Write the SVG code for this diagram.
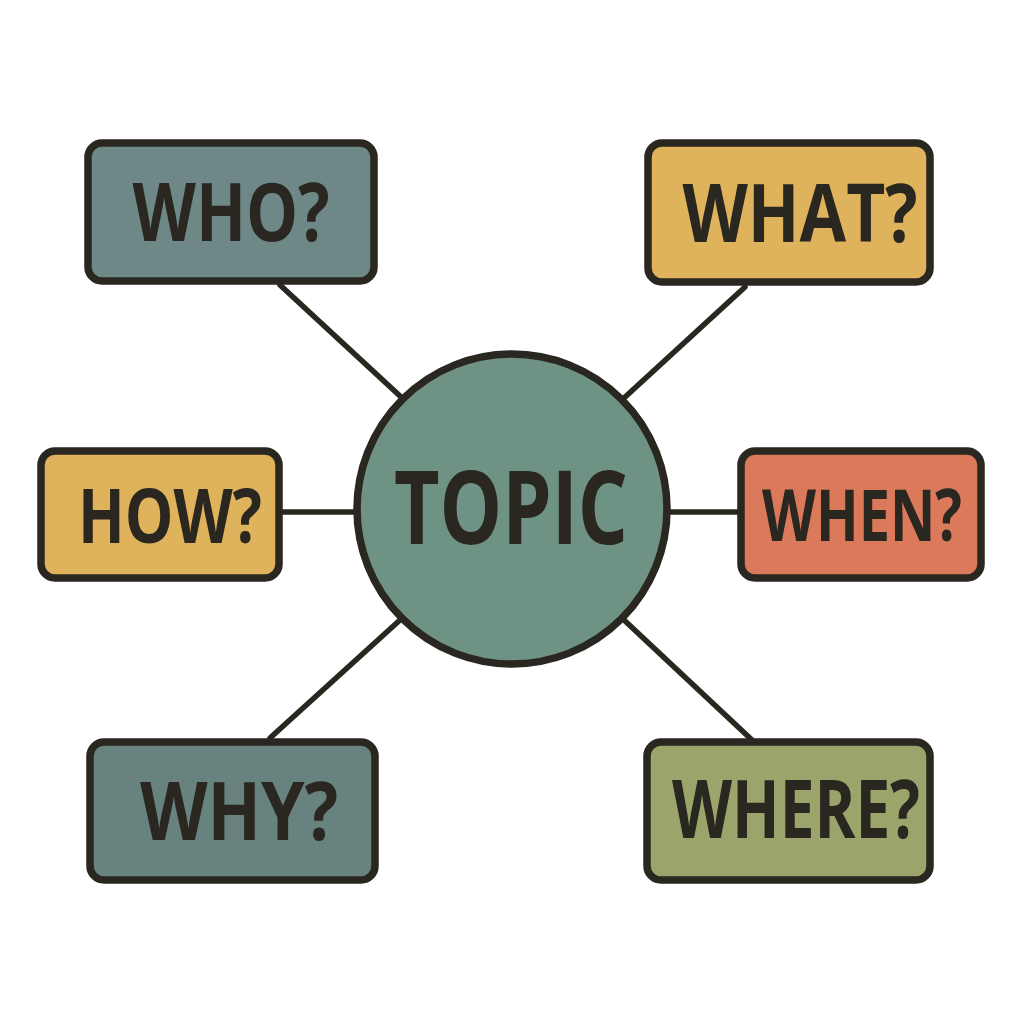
<svg xmlns="http://www.w3.org/2000/svg" width="1024" height="1024" viewBox="0 0 1024 1024">
<style>
.box{stroke:#2a2620;stroke-width:7.5}
.lbl{font-family:"Open Sans","Noto Sans",sans-serif;font-weight:700;fill:#2a2620;text-anchor:middle}
.conn line{stroke:#2a2620;stroke-width:5.5;stroke-linecap:round}
</style>
<rect width="1024" height="1024" fill="#ffffff"/>
<g class="conn" id="connectors">
<line x1="280" y1="285" x2="400" y2="396"/>
<line x1="745" y1="287" x2="624" y2="398"/>
<line x1="280" y1="512" x2="356" y2="512"/>
<line x1="668" y1="512" x2="740" y2="512"/>
<line x1="270" y1="738" x2="400" y2="620"/>
<line x1="752" y1="740" x2="624" y2="620"/>
</g>
<g id="topic">
<circle cx="512" cy="509" r="155" fill="#6e9384" class="box"/>
<text x="511" y="544" class="lbl" font-size="102" textLength="234" lengthAdjust="spacingAndGlyphs">TOPIC</text>
</g>
<g id="who">
<rect x="88" y="143" width="286" height="138" rx="14" fill="#6d8886" class="box"/>
<text x="231" y="241" class="lbl" font-size="80" textLength="197" lengthAdjust="spacingAndGlyphs">WHO?</text>
</g>
<g id="what">
<rect x="648" y="143" width="282" height="139" rx="14" fill="#dfb35b" class="box"/>
<text x="800" y="242" class="lbl" font-size="80" textLength="235" lengthAdjust="spacingAndGlyphs">WHAT?</text>
</g>
<g id="how">
<rect x="41" y="451" width="238" height="127" rx="14" fill="#dfb35b" class="box"/>
<text x="170" y="543" class="lbl" font-size="76" textLength="184" lengthAdjust="spacingAndGlyphs">HOW?</text>
</g>
<g id="when">
<rect x="741" y="451" width="240" height="127" rx="14" fill="#da7a5b" class="box"/>
<text x="862" y="541" class="lbl" font-size="72" textLength="200" lengthAdjust="spacingAndGlyphs">WHEN?</text>
</g>
<g id="why">
<rect x="90" y="742" width="285" height="138" rx="14" fill="#68827f" class="box"/>
<text x="239" y="840" class="lbl" font-size="80" textLength="198" lengthAdjust="spacingAndGlyphs">WHY?</text>
</g>
<g id="where">
<rect x="647" y="742" width="283" height="138" rx="14" fill="#9aa46b" class="box"/>
<text x="796" y="838" class="lbl" font-size="80" textLength="248" lengthAdjust="spacingAndGlyphs">WHERE?</text>
</g>
</svg>
